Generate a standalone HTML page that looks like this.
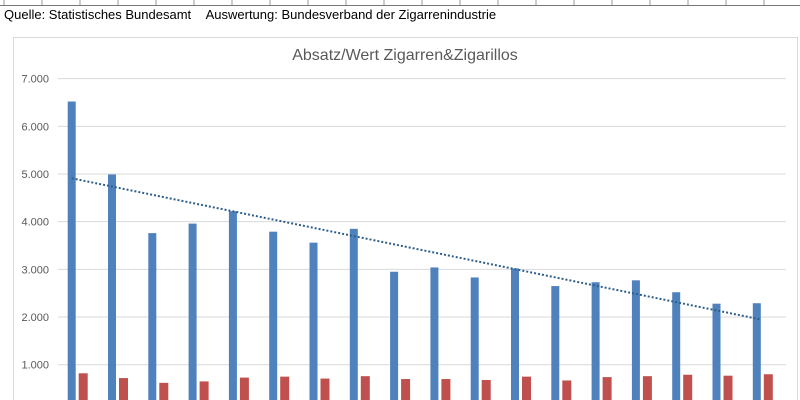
<!DOCTYPE html>
<html><head><meta charset="utf-8"><style>
html,body{margin:0;padding:0;background:#fff;width:800px;height:400px;overflow:hidden;font-family:"Liberation Sans",Arial,sans-serif}
</style></head><body>
<svg id="c" width="800" height="400" xmlns="http://www.w3.org/2000/svg">
<rect x="0" y="0" width="800" height="400" fill="#fff"/>
<g id="toprow"></g>
<text x="4" y="19" font-size="13" fill="#000">Quelle: Statistisches Bundesamt&#160;&#160;&#160;&#160;Auswertung: Bundesverband der Zigarrenindustrie</text>
<rect x="13.5" y="37.5" width="784" height="380" fill="#fff" stroke="#d9d9d9"/>
<text x="405" y="60" font-size="16" fill="#595959" text-anchor="middle">Absatz/Wert Zigarren&amp;Zigarillos</text>
<g id="grid"></g><g id="bars"></g><g id="trend"></g>
</svg>
<script>
const categories=["1","2","3","4","5","6","7","8","9","10","11","12","13","14","15","16","17","18"];
const absatz=[6520,4990,3760,3960,4220,3790,3560,3850,2950,3040,2830,3020,2650,2730,2770,2520,2280,2290];
const wert=[820,720,620,650,730,750,710,760,700,700,680,750,670,740,760,790,770,800];
const ticks=[1000,2000,3000,4000,5000,6000,7000];
const tickLabels=["1.000","2.000","3.000","4.000","5.000","6.000","7.000"];
const NS="http://www.w3.org/2000/svg";
const y=v=>412.4-v*0.04768;
const x0=i=>67.7+i*40.3;
function mk(t,a,p){const e=document.createElementNS(NS,t);for(const k in a)e.setAttribute(k,a[k]);p.appendChild(e);return e;}
const tr=document.getElementById('toprow');
for(let i=0;i<22;i++){const l=mk('line',{x1:4+i*38,y1:0,x2:4+i*38,y2:5,stroke:'#999'},tr);

}
const bl=mk('line',{x1:0,y1:5.5,x2:800,y2:5.5,stroke:'#777'},tr);


const g=document.getElementById('grid');
ticks.forEach((t,i)=>{const l=mk('line',{x1:58,x2:786,y1:y(t),y2:y(t),stroke:'#d9d9d9'},g);


const tx=mk('text',{x:49,y:y(t)+4,'font-size':11,fill:'#595959','text-anchor':'end'},g);tx.textContent=tickLabels[i];

});
const b=document.getElementById('bars');
categories.forEach((c,i)=>{
const r1=mk('rect',{x:x0(i),y:y(absatz[i]),width:8,height:400-y(absatz[i]),fill:'#4f81bd'},b);


const r2=mk('rect',{x:x0(i)+11,y:y(wert[i]),width:9,height:400-y(wert[i]),fill:'#c0504d'},b);

});
const n=absatz.length;let sx=0,sy=0,sxy=0,sxx=0;
absatz.forEach((v,i)=>{sx+=i;sy+=v;sxy+=i*v;sxx+=i*i;});
const m=(n*sxy-sx*sy)/(n*sxx-sx*sx),k=(sy-m*sx)/n;
const tl=mk('line',{x1:x0(0)+4,y1:y(k),x2:x0(n-1)+8,y2:y(k+m*(n-1)),stroke:'#2e5f8a','stroke-width':2,'stroke-dasharray':'2,2'},document.getElementById('trend'));


</script>
</body></html>
